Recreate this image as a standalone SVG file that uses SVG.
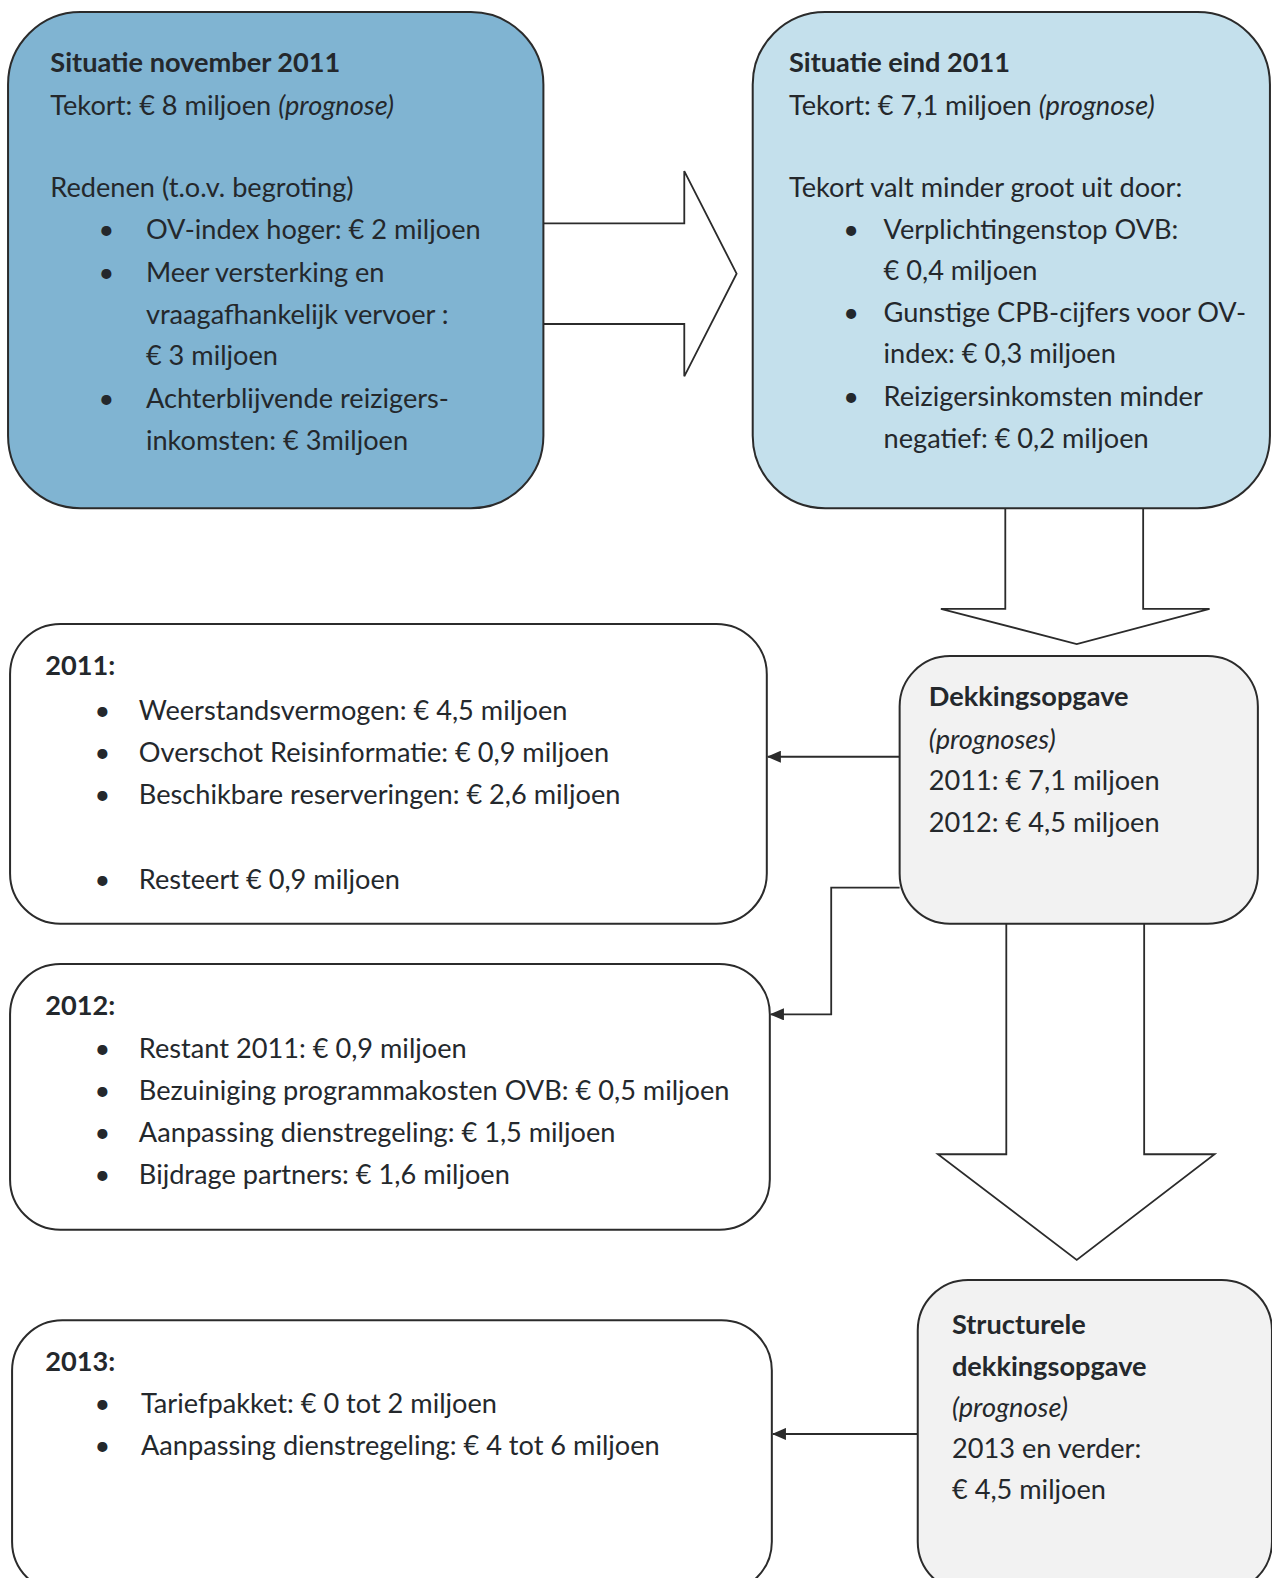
<svg xmlns="http://www.w3.org/2000/svg" width="1272" height="1578" viewBox="0 0 1272 1578">
<defs>
<style>
.box{stroke:#2b2b2b;stroke-width:2}
.b1{fill:#80b4d2}
.b2{fill:#c4e0ec}
.g{fill:#f2f2f2}
.w{fill:#ffffff}
.big{fill:#ffffff;stroke:#2b2b2b;stroke-width:1.8}
.con{fill:none;stroke:#2b2b2b;stroke-width:1.8}
text{font-family:Lato,"Open Sans","Liberation Sans",sans-serif;font-size:27px;fill:#24282c}
.bd{font-weight:bold}
.it{font-style:italic}
</style>
<marker id="ah" markerWidth="14" markerHeight="12" refX="13" refY="6" orient="auto" markerUnits="userSpaceOnUse">
<path d="M0,0 L14,6 L0,12 Z" fill="#2b2b2b"/>
</marker>
</defs>
<g transform="scale(1.0063)">
<g id="connectors">
<path class="big" d="M540,222 H680 V170 L732,272 L680,374 V322 H540"/>
<path class="big" d="M999,505 V605 H935 L1070,640 L1202,605 H1136 V505"/>
<path class="big" d="M1000,918 V1147 H932 L1070,1252 L1207,1147 H1137 V918"/>
<path class="con" d="M894,752 H763" marker-end="url(#ah)"/>
<path class="con" d="M894,882 H826 V1008 H766" marker-end="url(#ah)"/>
<path class="con" d="M912,1425 H768" marker-end="url(#ah)"/>
</g>
<g id="n1">
<rect class="box b1" x="8" y="12" width="532" height="493" rx="72"/>
<text x="50" y="72" class="bd">Situatie november 2011</text>
<text x="50" y="114">Tekort: € 8 miljoen <tspan class="it">(prognose)</tspan></text>
<text x="50" y="196">Redenen (t.o.v. begroting)</text>
<text x="98" y="238">•</text><text x="145" y="238">OV-index hoger: € 2 miljoen</text>
<text x="98" y="280">•</text><text x="145" y="280">Meer versterking en</text>
<text x="145" y="322">vraagafhankelijk vervoer :</text>
<text x="145" y="363">€ 3 miljoen</text>
<text x="98" y="405">•</text><text x="145" y="405">Achterblijvende reizigers-</text>
<text x="145" y="447">inkomsten: € 3miljoen</text>
</g>
<g id="n2">
<rect class="box b2" x="748" y="12" width="514" height="493" rx="72"/>
<text x="784" y="72" class="bd">Situatie eind 2011</text>
<text x="784" y="114">Tekort: € 7,1 miljoen <tspan class="it">(prognose)</tspan></text>
<text x="784" y="196">Tekort valt minder groot uit door:</text>
<text x="838" y="238">•</text><text x="878" y="238">Verplichtingenstop OVB:</text>
<text x="878" y="278">€ 0,4 miljoen</text>
<text x="838" y="320">•</text><text x="878" y="320">Gunstige CPB-cijfers voor OV-</text>
<text x="878" y="361">index: € 0,3 miljoen</text>
<text x="838" y="403">•</text><text x="878" y="403">Reizigersinkomsten minder</text>
<text x="878" y="445">negatief: € 0,2 miljoen</text>
</g>
<g id="n3">
<rect class="box g" x="894" y="652" width="356" height="266" rx="50"/>
<text x="923" y="702" class="bd">Dekkingsopgave</text>
<text x="923" y="744" class="it">(prognoses)</text>
<text x="923" y="785">2011: € 7,1 miljoen</text>
<text x="923" y="827">2012: € 4,5 miljoen</text>
</g>
<g id="n4">
<rect class="box w" x="10" y="620" width="752" height="298" rx="50"/>
<text x="45" y="671" class="bd">2011:</text>
<text x="94" y="715">•</text><text x="138" y="715">Weerstandsvermogen: € 4,5 miljoen</text>
<text x="94" y="757">•</text><text x="138" y="757">Overschot Reisinformatie: € 0,9 miljoen</text>
<text x="94" y="799">•</text><text x="138" y="799">Beschikbare reserveringen: € 2,6 miljoen</text>
<text x="94" y="883">•</text><text x="138" y="883">Resteert € 0,9 miljoen</text>
</g>
<g id="n5">
<rect class="box w" x="10" y="958" width="755" height="264" rx="50"/>
<text x="45" y="1009" class="bd">2012:</text>
<text x="94" y="1051">•</text><text x="138" y="1051">Restant 2011: € 0,9 miljoen</text>
<text x="94" y="1093">•</text><text x="138" y="1093">Bezuiniging programmakosten OVB: € 0,5 miljoen</text>
<text x="94" y="1135">•</text><text x="138" y="1135">Aanpassing dienstregeling: € 1,5 miljoen</text>
<text x="94" y="1177">•</text><text x="138" y="1177">Bijdrage partners: € 1,6 miljoen</text>
</g>
<g id="n6">
<rect class="box g" x="912" y="1272" width="352" height="310" rx="50"/>
<text x="946" y="1326" class="bd">Structurele</text>
<text x="946" y="1367" class="bd">dekkingsopgave</text>
<text x="946" y="1408" class="it">(prognose)</text>
<text x="946" y="1449">2013 en verder:</text>
<text x="946" y="1490">€ 4,5 miljoen</text>
</g>
<g id="n7">
<rect class="box w" x="12" y="1312" width="755" height="270" rx="50"/>
<text x="45" y="1362" class="bd">2013:</text>
<text x="94" y="1404">•</text><text x="140" y="1404">Tariefpakket: € 0 tot 2 miljoen</text>
<text x="94" y="1446">•</text><text x="140" y="1446">Aanpassing dienstregeling: € 4 tot 6 miljoen</text>
</g>
</g>
</svg>
